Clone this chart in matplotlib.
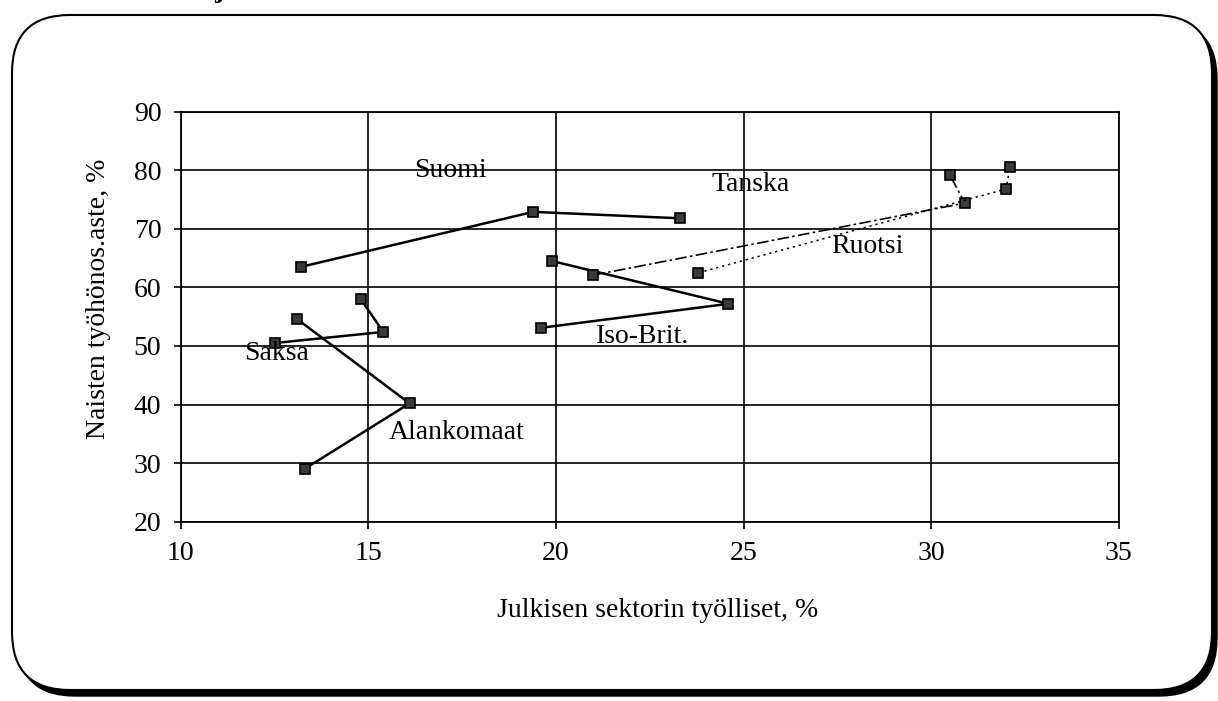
import matplotlib.pyplot as plt
from matplotlib.patches import FancyBboxPatch

plt.rcParams['font.family'] = ['Liberation Serif', 'DejaVu Serif']

# Datat luettu kuvasta: julkisen sektorin työlliset (%) ja naisten työhönosallistumisaste (%)
suomi_x = [13.2, 19.4, 23.3]
suomi_y = [63.5, 72.9, 71.8]
tanska_x = [21.0, 30.9, 30.5]
tanska_y = [62.1, 74.4, 79.2]
ruotsi_x = [23.8, 32.0, 32.1]
ruotsi_y = [62.5, 76.8, 80.5]
isobrit_x = [19.6, 24.6, 19.9]
isobrit_y = [53.1, 57.2, 64.5]
saksa_x = [14.8, 15.4, 12.5]
saksa_y = [58.0, 52.4, 50.5]
alank_x = [13.1, 16.1, 13.3]
alank_y = [54.6, 40.2, 29.0]

# Maiden nimet ja niiden paikat kuvassa
labels = ['Suomi', 'Tanska', 'Ruotsi', 'Iso-Brit.', 'Saksa', 'Alankomaat']
label_x = [17.2, 25.2, 28.3, 22.3, 12.55, 17.35]
label_y = [79.9, 77.6, 67.0, 51.6, 48.8, 35.2]

x_ticks = [10, 15, 20, 25, 30, 35]
y_ticks = [20, 30, 40, 50, 60, 70, 80, 90]

fig = plt.figure(figsize=(12.18, 7.01), dpi=100, facecolor='white')

# Taustalle pyöreäkulmainen kehys varjon kanssa (pikselikoordinaatit)
bg = fig.add_axes([0, 0, 1, 1], zorder=0)
bg.set_xlim(0, 1218)
bg.set_ylim(701, 0)
bg.axis('off')
shadow = FancyBboxPatch((17, 21), 1200, 675, boxstyle='round,pad=0,rounding_size=58',
                        facecolor='black', edgecolor='black', lw=1)
box = FancyBboxPatch((12, 15), 1200, 675, boxstyle='round,pad=0,rounding_size=58',
                     facecolor='white', edgecolor='black', lw=1.5)
bg.add_patch(shadow)
bg.add_patch(box)
# otsikon alaosa näkyy kuvan yläreunassa
bg.text(219, -3, 'j', fontsize=20, fontweight='bold', ha='center', va='baseline', clip_on=False)

ax = fig.add_axes([180.7 / 1218, (701 - 521.7) / 701, 938 / 1218, 410 / 701], zorder=1)
ax.patch.set_alpha(0)

marker_kw = dict(marker='s', markersize=7.5, markerfacecolor='#3a3a3a',
                 markeredgecolor='black', markeredgewidth=1.2, color='black', zorder=3)

ax.plot(suomi_x, suomi_y, lw=1.8, **marker_kw)
ax.plot(isobrit_x, isobrit_y, lw=1.8, **marker_kw)
ax.plot(saksa_x, saksa_y, lw=1.8, **marker_kw)
ax.plot(alank_x, alank_y, lw=1.8, **marker_kw)
ax.plot(tanska_x, tanska_y, lw=1.2, linestyle=(0, (7, 2, 1.5, 2)), **marker_kw)
ax.plot(ruotsi_x, ruotsi_y, lw=1.1, linestyle=(0, (1.5, 2.5)), **marker_kw)

for name, lx, ly in zip(labels, label_x, label_y):
    ax.text(lx, ly, name, fontsize=20, ha='center', va='center', zorder=4)

ax.set_xlim(10, 35)
ax.set_ylim(20, 90)
ax.set_xticks(x_ticks)
ax.set_yticks(y_ticks)
ax.grid(True, color='black', lw=1.2)
ax.set_axisbelow(True)
for sp in ax.spines.values():
    sp.set_linewidth(1.3)
ax.tick_params(axis='both', direction='out', length=5, width=1.2, labelsize=20, pad=9)

ax.set_xlabel('Julkisen sektorin työlliset, %', fontsize=20)
ax.set_ylabel('Naisten työhönos.aste, %', fontsize=20)
ax.xaxis.set_label_coords(0.508, -0.185)
ax.yaxis.set_label_coords(-0.074, 0.543)

fig.savefig('out.png', dpi=100, facecolor='white')
